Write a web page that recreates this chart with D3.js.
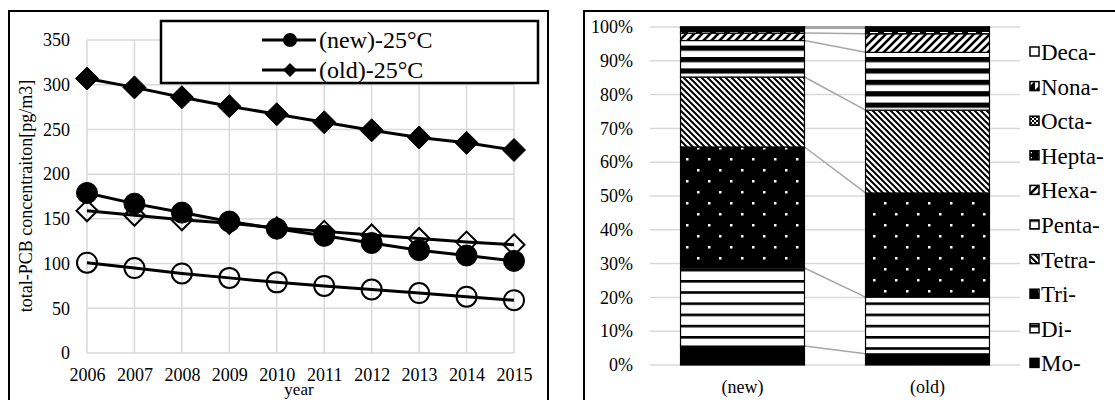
<!DOCTYPE html>
<html>
<head>
<meta charset="utf-8">
<script src="https://cdn.jsdelivr.net/npm/d3@7"></script>
<style>
  body { margin: 0; background: #fff; }
  svg { display: block; }
</style>
</head>
<body>
<svg id="chart" width="1115" height="400"></svg>
<script>
// ---- left chart data ----
const years = [2006, 2007, 2008, 2009, 2010, 2011, 2012, 2013, 2014, 2015];
const newFilled = [179, 167, 157, 147, 139, 131, 123, 115, 109, 103]; // (new)-25°C
const oldFilled = [307, 297, 286, 276, 267, 258, 249, 241, 235, 227]; // (old)-25°C
const oldOpen = [159, 154, 149, 145, 140, 136, 132, 128, 124, 121];
const newOpen = [101, 95, 89, 84, 79, 75, 71, 67, 63, 59];
const concTicks = [0, 50, 100, 150, 200, 250, 300, 350];
const legendNames = ['(new)-25°C', '(old)-25°C'];

// ---- right chart data ----
const barCats = ['(new)', '(old)'];
const homologs = ['Mo-', 'Di-', 'Tri-', 'Tetra-', 'Penta-', 'Hexa-', 'Hepta-', 'Octa-', 'Nona-', 'Deca-'];
const shareNew = [5.6, 23.1, 35.8, 20.7, 10.8, 2.2, 1.4, 0.3, 0.08, 0.02];
const shareOld = [3.3, 16.8, 30.8, 24.5, 17.1, 5.5, 1.6, 0.3, 0.08, 0.02];
const pctTicks = [0, 10, 20, 30, 40, 50, 60, 70, 80, 90, 100];

const serif = '"Liberation Serif", "Times New Roman", Times, serif';
const svg = d3.select('#chart').style('font-family', serif);
const grid = '#d9d9d9';

// frames
svg.append('rect').attr('x', 9).attr('y', 11).attr('width', 539).attr('height', 400)
  .attr('fill', 'none').attr('stroke', '#000').attr('stroke-width', 2);
svg.append('rect').attr('x', 584).attr('y', 11).attr('width', 540).attr('height', 400)
  .attr('fill', 'none').attr('stroke', '#000').attr('stroke-width', 2);

// ================= left: line chart =================
const x = d3.scaleLinear().domain([2006, 2015]).range([87, 514]);
const y = d3.scaleLinear().domain([0, 350]).range([353, 40]);

const left = svg.append('g');
left.selectAll('.hgrid').data(concTicks).enter().append('line')
  .attr('x1', x(2006)).attr('x2', x(2015))
  .attr('y1', d => y(d)).attr('y2', d => y(d))
  .attr('stroke', grid).attr('stroke-width', 1.5);
left.selectAll('.vgrid').data(years).enter().append('line')
  .attr('x1', d => x(d)).attr('x2', d => x(d))
  .attr('y1', y(0)).attr('y2', y(350))
  .attr('stroke', grid).attr('stroke-width', 1.5);

const yAxis = d3.axisLeft(y).tickValues(concTicks).tickSize(0).tickPadding(0);
left.append('g').attr('transform', 'translate(70,0)').call(yAxis)
  .attr('font-family', serif).attr('font-size', 18)
  .call(g => g.select('.domain').remove())
  .selectAll('text').style('font-family', serif).attr('fill', '#000');

const xAxis = d3.axisBottom(x).tickValues(years).tickFormat(d3.format('d')).tickSize(0).tickPadding(0);
left.append('g').attr('transform', 'translate(0,368)').call(xAxis)
  .attr('font-family', serif).attr('font-size', 18)
  .call(g => g.select('.domain').remove())
  .selectAll('text').style('font-family', serif).attr('fill', '#000');

left.append('text').attr('transform', 'translate(32,196) rotate(-90)')
  .attr('text-anchor', 'middle').attr('font-size', 18).style('font-family', serif)
  .text('total-PCB concentraiton[pg/m3]');
left.append('text').attr('x', 299).attr('y', 395).style('font-family', serif)
  .attr('text-anchor', 'middle').attr('font-size', 17).text('year');

const diamond = s => `M0,${-s}L${s},0L0,${s}L${-s},0Z`;
const series = [
  { values: oldOpen, shape: 'diamond', filled: false },
  { values: newOpen, shape: 'circle', filled: false },
  { values: oldFilled, shape: 'diamond', filled: true },
  { values: newFilled, shape: 'circle', filled: true }
];
const line = d3.line().x((d, i) => x(years[i])).y(d => y(d));

series.forEach(s => {
  left.append('path').attr('d', line(s.values))
    .attr('fill', 'none').attr('stroke', '#000').attr('stroke-width', 3);
  const m = left.append('g');
  s.values.forEach((v, i) => {
    const el = s.shape === 'circle'
      ? m.append('circle').attr('r', s.filled ? 10.5 : 10)
      : m.append('path').attr('d', diamond(s.filled ? 11.5 : 10.5));
    el.attr('transform', `translate(${x(years[i])},${y(v)})`)
      .attr('fill', s.filled ? '#000' : 'none')
      .attr('stroke', '#000').attr('stroke-width', s.filled ? 1 : 2);
  });
});

// legend
const lg = left.append('g');
lg.append('rect').attr('x', 161).attr('y', 21).attr('width', 377).attr('height', 62)
  .attr('fill', '#fff').attr('stroke', '#000').attr('stroke-width', 2.5);
legendNames.forEach((name, i) => {
  const ly = 40 + i * 30;
  lg.append('line').attr('x1', 262).attr('x2', 316).attr('y1', ly).attr('y2', ly)
    .attr('stroke', '#000').attr('stroke-width', 3);
  if (i === 0) lg.append('circle').attr('cx', 290).attr('cy', ly).attr('r', 7).attr('fill', '#000');
  else lg.append('path').attr('d', diamond(7)).attr('transform', `translate(290,${ly})`).attr('fill', '#000');
  lg.append('text').attr('x', 319).attr('y', ly + 8).attr('font-size', 24)
    .style('font-family', serif).text(name);
});

// ================= right: 100% stacked bars =================
const defs = svg.append('defs');
function pat(id, w, h, draw) {
  const p = defs.append('pattern').attr('id', id).attr('patternUnits', 'userSpaceOnUse')
    .attr('width', w).attr('height', h);
  draw(p);
}
pat('pDi', 10, 11.2, p => {
  p.append('rect').attr('width', 10).attr('height', 11.2).attr('fill', '#fff');
  p.append('rect').attr('width', 10).attr('height', 2.6).attr('fill', '#000');
});
pat('pTri', 22, 22, p => {
  p.append('rect').attr('width', 22).attr('height', 22).attr('fill', '#000');
  p.append('rect').attr('x', 4).attr('y', 4).attr('width', 2.5).attr('height', 2.5).attr('fill', '#fff');
  p.append('rect').attr('x', 15).attr('y', 15).attr('width', 2.5).attr('height', 2.5).attr('fill', '#fff');
});
pat('pTetra', 6, 6, p => {
  p.append('rect').attr('width', 6).attr('height', 6).attr('fill', '#fff');
  p.append('path').attr('d', 'M0,0L6,6M-1,5L1,7M5,-1L7,1').attr('stroke', '#000').attr('stroke-width', 2);
});
pat('pPenta', 10, 11.4, p => {
  p.append('rect').attr('width', 10).attr('height', 11.4).attr('fill', '#fff');
  p.append('rect').attr('width', 10).attr('height', 5.2).attr('fill', '#000');
});
pat('pHexa', 8, 8, p => {
  p.append('rect').attr('width', 8).attr('height', 8).attr('fill', '#fff');
  p.append('path').attr('d', 'M0,8L8,0M-1,1L1,-1M7,9L9,7').attr('stroke', '#000').attr('stroke-width', 2.6);
});
pat('pHepta', 14, 5, p => {
  p.append('rect').attr('width', 14).attr('height', 5).attr('fill', '#000');
  p.append('rect').attr('x', 2).attr('y', 2).attr('width', 8).attr('height', 1.3).attr('fill', '#fff');
});
pat('pOcta', 4, 4, p => {
  p.append('rect').attr('width', 4).attr('height', 4).attr('fill', '#fff');
  p.append('rect').attr('width', 2).attr('height', 2).attr('fill', '#000');
  p.append('rect').attr('x', 2).attr('y', 2).attr('width', 2).attr('height', 2).attr('fill', '#000');
});
pat('pNona', 9, 9, p => {
  p.append('rect').attr('width', 9).attr('height', 9).attr('fill', '#fff');
  p.append('path').attr('d', 'M0,9L9,0L9,9Z').attr('fill', '#000');
});
const fills = ['#000', 'url(#pDi)', 'url(#pTri)', 'url(#pTetra)', 'url(#pPenta)',
  'url(#pHexa)', 'url(#pHepta)', 'url(#pOcta)', 'url(#pNona)', '#fff'];

const xb = d3.scaleBand().domain(barCats).range([650, 1020]).paddingInner(0.33).paddingOuter(0.165);
const yb = d3.scaleLinear().domain([0, 100]).range([365, 27]);

const right = svg.append('g');
right.selectAll('.pgrid').data(pctTicks).enter().append('line')
  .attr('x1', 650).attr('x2', 1020)
  .attr('y1', d => yb(d)).attr('y2', d => yb(d))
  .attr('stroke', grid).attr('stroke-width', 1.5);

const ybAxis = d3.axisLeft(yb).tickValues(pctTicks).tickFormat(d => d + '%').tickSize(0).tickPadding(0);
right.append('g').attr('transform', 'translate(633,0)').call(ybAxis)
  .attr('font-family', serif).attr('font-size', 18)
  .call(g => g.select('.domain').remove())
  .selectAll('text').style('font-family', serif).attr('fill', '#000');

right.selectAll('.cat').data(barCats).enter().append('text')
  .attr('x', d => xb(d) + xb.bandwidth() / 2).attr('y', 393)
  .attr('text-anchor', 'middle').attr('font-size', 18).style('font-family', serif).text(d => d);

const stackInput = barCats.map(c => {
  const o = { cat: c };
  homologs.forEach((h, i) => { o[h] = (c === '(new)' ? shareNew : shareOld)[i]; });
  return o;
});
const stacked = d3.stack().keys(homologs)(stackInput);

// series lines between bars
const seriesLines = right.append('g');
stacked.forEach(layer => {
  seriesLines.append('line')
    .attr('x1', xb('(new)') + xb.bandwidth()).attr('x2', xb('(old)'))
    .attr('y1', yb(layer[0][1])).attr('y2', yb(layer[1][1]))
    .attr('stroke', '#a6a6a6').attr('stroke-width', 1.5);
});

stacked.forEach((layer, li) => {
  right.append('g').selectAll('rect').data(layer).enter().append('rect')
    .attr('x', d => xb(d.data.cat)).attr('width', xb.bandwidth())
    .attr('y', d => yb(d[1])).attr('height', d => yb(d[0]) - yb(d[1]))
    .attr('fill', fills[li]).attr('stroke', '#000').attr('stroke-width', 1.2);
});

// legend, top to bottom Deca- .. Mo-
const rl = right.append('g');
homologs.slice().reverse().forEach((h, i) => {
  const ly = 52 + i * 34.6;
  const fi = homologs.indexOf(h);
  rl.append('rect').attr('x', 1030).attr('y', ly - 5).attr('width', 9).attr('height', 9)
    .attr('fill', fills[fi]).attr('stroke', '#000').attr('stroke-width', 1.5);
  rl.append('text').attr('x', 1041).attr('y', ly + 8).attr('font-size', 23)
    .style('font-family', serif).text(h);
});
</script>
</body>
</html>
